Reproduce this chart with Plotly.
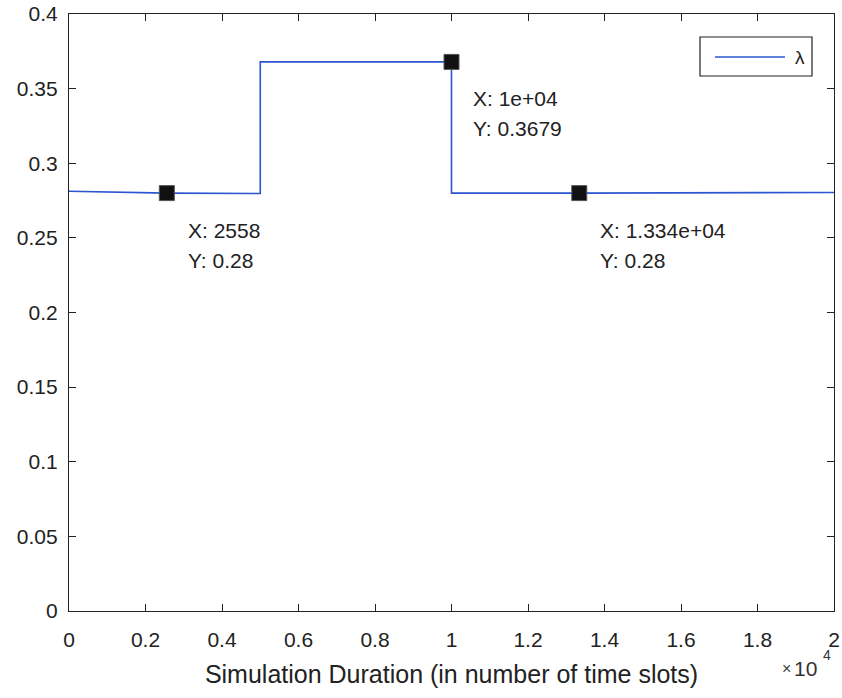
import plotly.graph_objects as go

# ---- data ----
x_vals = [0, 2558, 5000, 5000, 10000, 10000, 13340, 20000]
y_vals = [0.2812, 0.2800, 0.2797, 0.3679, 0.3679, 0.2800, 0.2800, 0.2804]
tip_x = [2558, 10000, 13340]
tip_y = [0.28, 0.3679, 0.28]
tip_xlabel = ["X: 2558", "X: 1e+04", "X: 1.334e+04"]
tip_ylabel = ["Y: 0.28", "Y: 0.3679", "Y: 0.28"]
x_tickvals = [0, 2000, 4000, 6000, 8000, 10000, 12000, 14000, 16000, 18000, 20000]
x_ticktext = ["0", "0.2", "0.4", "0.6", "0.8", "1", "1.2", "1.4", "1.6", "1.8", "2"]
y_tickvals = [0, 0.05, 0.1, 0.15, 0.2, 0.25, 0.3, 0.35, 0.4]
y_ticktext = ["0", "0.05", "0.1", "0.15", "0.2", "0.25", "0.3", "0.35", "0.4"]
legend_label = "λ"

FONT = "Liberation Sans, Arial, sans-serif"
LINE_COLOR = "#2d55d2"

fig = go.Figure()
fig.add_trace(go.Scatter(x=x_vals, y=y_vals, mode="lines",
                         line=dict(color=LINE_COLOR, width=1.6),
                         name=legend_label, showlegend=False, hoverinfo="skip"))
fig.add_trace(go.Scatter(x=tip_x, y=tip_y, mode="markers",
                         marker=dict(symbol="square", size=15, color="#111111",
                                     line=dict(color="#555555", width=1)),
                         showlegend=False, hoverinfo="skip"))

for xx, yy, lx, ly in zip(tip_x, tip_y, tip_xlabel, tip_ylabel):
    fig.add_annotation(x=xx, y=yy, xref="x", yref="y", text=lx, showarrow=False,
                       xanchor="left", yanchor="middle", xshift=19, yshift=-37,
                       font=dict(family=FONT, size=21, color="#222222"))
    fig.add_annotation(x=xx, y=yy, xref="x", yref="y", text=ly, showarrow=False,
                       xanchor="left", yanchor="middle", xshift=19, yshift=-67,
                       font=dict(family=FONT, size=21, color="#222222"))

# legend box (drawn manually to match the long sample line)
L, R, T, B = 69, 834, 14, 611
def px(xp):
    return (xp - L) / (R - L)
def py(yp):
    return (B - yp) / (B - T)
fig.add_shape(type="rect", xref="paper", yref="paper",
              x0=px(700), x1=px(812), y0=py(76), y1=py(37),
              line=dict(color="#222222", width=1.2), fillcolor="white")
fig.add_shape(type="line", xref="paper", yref="paper",
              x0=px(715), x1=px(785), y0=py(57), y1=py(57),
              line=dict(color=LINE_COLOR, width=1.6))
fig.add_annotation(xref="paper", yref="paper", x=px(800), y=py(58), text=legend_label,
                   showarrow=False, xanchor="center", yanchor="middle",
                   font=dict(family=FONT, size=19, color="#222222"))

# x10^4 exponent label
fig.add_annotation(xref="paper", yref="paper", x=px(786), y=py(668), text="×",
                   showarrow=False, xanchor="center", yanchor="middle",
                   font=dict(family=FONT, size=16, color="#444444"))
fig.add_annotation(xref="paper", yref="paper", x=px(819), y=py(668), text="10",
                   showarrow=False, xanchor="right", yanchor="middle",
                   font=dict(family=FONT, size=21, color="#333333"))
fig.add_annotation(xref="paper", yref="paper", x=px(821), y=py(655), text="4",
                   showarrow=False, xanchor="left", yanchor="middle",
                   font=dict(family=FONT, size=14, color="#333333"))

axis_common = dict(showline=True, linecolor="#222222", linewidth=1.2, mirror="ticks",
                   ticks="inside", ticklen=7, tickcolor="#222222", tickwidth=1.2,
                   showgrid=False, zeroline=False, automargin=False,
                   tickfont=dict(family=FONT, size=21, color="#222222"))

fig.update_xaxes(range=[0, 20000], tickvals=x_tickvals, ticktext=x_ticktext,
                 ticklabelstandoff=10,
                 title=dict(text="Simulation Duration (in number of time slots)",
                            font=dict(family=FONT, size=25, color="#222222"), standoff=15),
                 **axis_common)
fig.update_yaxes(range=[0, 0.4], tickvals=y_tickvals, ticktext=y_ticktext,
                 ticklabelstandoff=6, **axis_common)

fig.update_layout(width=842, height=698, paper_bgcolor="white", plot_bgcolor="white",
                  margin=dict(l=L, r=842 - R, t=T, b=698 - B), showlegend=False)

fig.write_html("out.html")
